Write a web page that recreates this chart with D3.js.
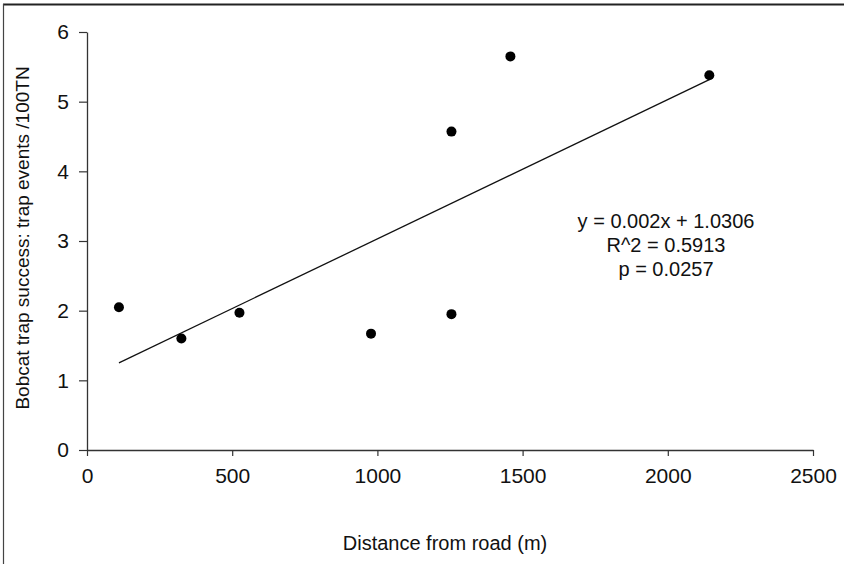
<!DOCTYPE html>
<html>
<head>
<meta charset="utf-8">
<script src="https://cdn.jsdelivr.net/npm/d3@7"></script>
<style>
  body { margin: 0; background: #fff; }
  svg { display: block; font-family: "Liberation Sans", Arial, sans-serif; }
</style>
</head>
<body>
<svg id="chart" width="844" height="564"></svg>
<script>
// bobcat trap data
const distance = [110, 325, 525, 978, 1255, 1255, 1458, 2143] ;
const trapSuccess = [2.05, 1.60, 1.97, 1.67, 1.95, 4.57, 5.65, 5.38] ;

const xTicks = [0, 500, 1000, 1500, 2000, 2500] ;
const yTicks = [0, 1, 2, 3, 4, 5, 6] ;

const slope = 0.002 ;
const intercept = 1.0306 ;
const statLines = [ "y = 0.002x + 1.0306", "R^2 = 0.5913", "p = 0.0257" ] ;

const svg = d3.select( "#chart" ) ;

// frame round the figure (top + left only visible)
svg.append( "line" ).attr( "x1", 3 ).attr( "y1", 4.5 ).attr( "x2", 844 ).attr( "y2", 4.5 )
	.attr( "stroke", "#222" ).attr( "stroke-width", 2 ) ;
svg.append( "line" ).attr( "x1", 3.5 ).attr( "y1", 4 ).attr( "x2", 3.5 ).attr( "y2", 564 )
	.attr( "stroke", "#444" ).attr( "stroke-width", 1.2 ) ;

const x = d3.scaleLinear().domain( [0, 2500] ).range( [87, 813] ) ;
const y = d3.scaleLinear().domain( [0, 6] ).range( [450, 32] ) ;

const xAxis = svg.append( "g" )
	.attr( "transform", "translate(0," + y(0) + ")" )
	.call( d3.axisBottom(x).tickValues(xTicks).tickFormat(d3.format("d"))
		.tickSize(6).tickSizeOuter(0).tickPadding(12) ) ;

const yAxis = svg.append( "g" )
	.attr( "transform", "translate(" + x(0) + ",0)" )
	.call( d3.axisLeft(y).tickValues(yTicks).tickFormat(d3.format("d"))
		.tickSize(8).tickSizeOuter(0).tickPadding(10) ) ;

[xAxis, yAxis].forEach( function(a) {
	a.select( ".domain" ).attr( "stroke", "#333" ).attr( "stroke-width", 1.3 ) ;
	a.selectAll( ".tick line" ).attr( "stroke", "#333" ).attr( "stroke-width", 1.2 ) ;
	a.selectAll( "text" )
		.attr( "font-family", null ).attr( "font-size", null )
		.style( "font-size", "21px" )
		.attr( "fill", "#111" ) ;
}) ;

// trend line over the data range
const xMin = d3.min( distance ), xMax = d3.max( distance ) ;
svg.append( "line" )
	.attr( "x1", x(xMin) ).attr( "y1", y(slope*xMin + intercept) )
	.attr( "x2", x(xMax) ).attr( "y2", y(slope*xMax + intercept) )
	.attr( "stroke", "#111" ).attr( "stroke-width", 1.3 ) ;

svg.selectAll( "circle.pt" )
	.data( distance )
	.enter().append( "circle" )
		.attr( "class", "pt" )
		.attr( "cx", function(d) { return x(d) ; } )
		.attr( "cy", function(d, i) { return y(trapSuccess[i]) ; } )
		.attr( "r", 5 )
		.attr( "fill", "#000" ) ;

svg.selectAll( "text.stat" )
	.data( statLines )
	.enter().append( "text" )
		.attr( "class", "stat" )
		.attr( "x", 666 )
		.attr( "y", function(d, i) { return 228 + i*24 ; } )
		.attr( "text-anchor", "middle" )
		.style( "font-size", "20px" )
		.attr( "fill", "#111" )
		.text( function(d) { return d ; } ) ;

svg.append( "text" )
	.attr( "x", 445 ).attr( "y", 550 )
	.attr( "text-anchor", "middle" )
	.style( "font-size", "20px" )
	.attr( "fill", "#111" )
	.text( "Distance from road (m)" ) ;

svg.append( "text" )
	.attr( "transform", "translate(29,238) rotate(-90)" )
	.attr( "text-anchor", "middle" )
	.style( "font-size", "19px" )
	.attr( "fill", "#111" )
	.text( "Bobcat trap success: trap events /100TN" ) ;
</script>
</body>
</html>
